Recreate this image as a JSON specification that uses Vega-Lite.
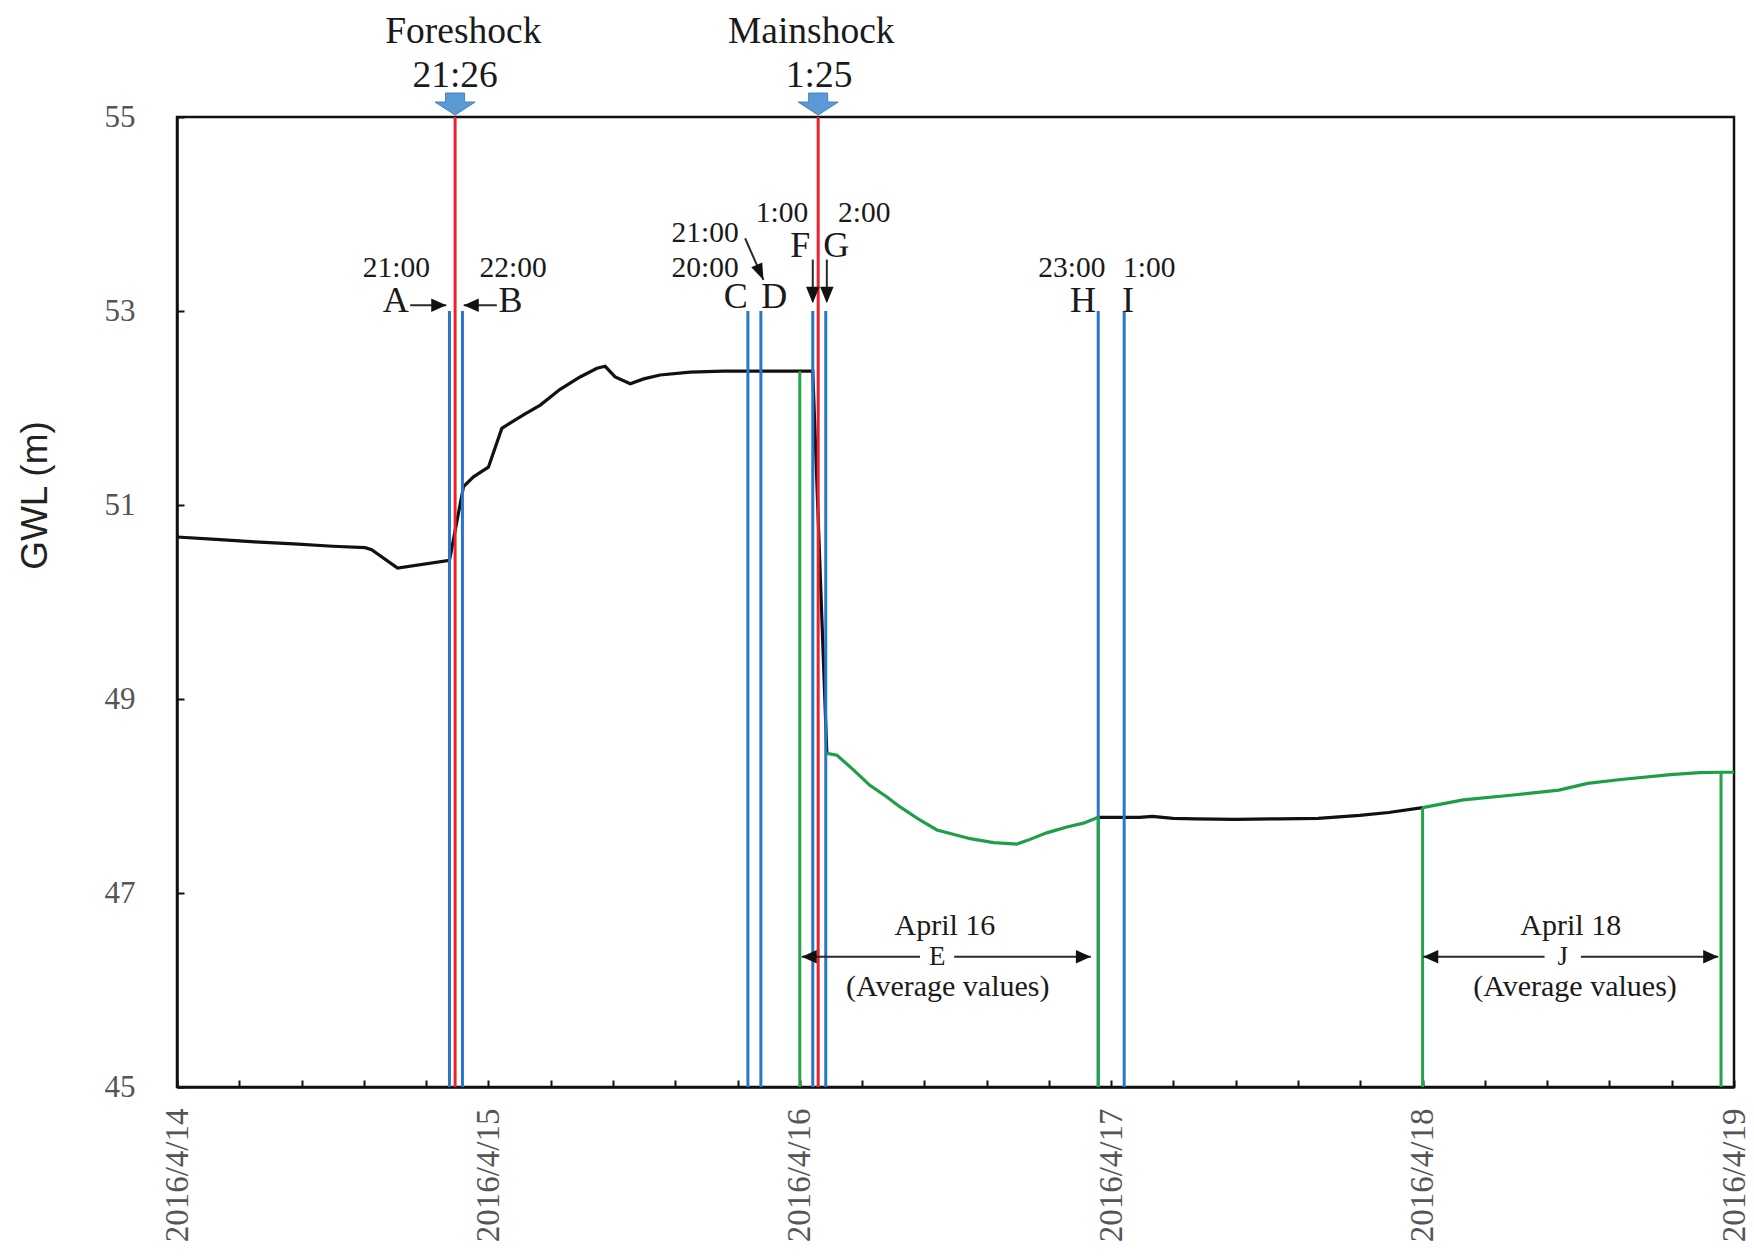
{
  "$schema": "https://vega.github.io/schema/vega-lite/v6.json",
  "width": 1557,
  "height": 970,
  "autosize": {"type": "none"},
  "padding": {"left": 177, "top": 117, "right": 20, "bottom": 172},
  "background": "white",
  "config": {"view": {"stroke": "#111", "strokeWidth": 2.5}},
  "resolve": {"scale": {"color": "independent"}},
  "datasets": {
    "curve": [
      {"t": "2016-04-14T00:00Z", "v": 50.67, "seg": "s1"},
      {"t": "2016-04-14T03:00Z", "v": 50.645, "seg": "s1"},
      {"t": "2016-04-14T06:00Z", "v": 50.62, "seg": "s1"},
      {"t": "2016-04-14T09:00Z", "v": 50.6, "seg": "s1"},
      {"t": "2016-04-14T12:00Z", "v": 50.575, "seg": "s1"},
      {"t": "2016-04-14T14:30Z", "v": 50.56, "seg": "s1"},
      {"t": "2016-04-14T15:00Z", "v": 50.54, "seg": "s1"},
      {"t": "2016-04-14T17:00Z", "v": 50.35, "seg": "s1"},
      {"t": "2016-04-14T21:00Z", "v": 50.43, "seg": "s1"},
      {"t": "2016-04-14T22:05Z", "v": 51.19, "seg": "s1"},
      {"t": "2016-04-14T22:51Z", "v": 51.29, "seg": "s1"},
      {"t": "2016-04-15T00:00Z", "v": 51.39, "seg": "s1"},
      {"t": "2016-04-15T01:02Z", "v": 51.79, "seg": "s1"},
      {"t": "2016-04-15T02:42Z", "v": 51.93, "seg": "s1"},
      {"t": "2016-04-15T04:00Z", "v": 52.03, "seg": "s1"},
      {"t": "2016-04-15T05:30Z", "v": 52.19, "seg": "s1"},
      {"t": "2016-04-15T07:04Z", "v": 52.32, "seg": "s1"},
      {"t": "2016-04-15T08:22Z", "v": 52.41, "seg": "s1"},
      {"t": "2016-04-15T09:00Z", "v": 52.43, "seg": "s1"},
      {"t": "2016-04-15T09:46Z", "v": 52.32, "seg": "s1"},
      {"t": "2016-04-15T10:56Z", "v": 52.25, "seg": "s1"},
      {"t": "2016-04-15T11:58Z", "v": 52.3, "seg": "s1"},
      {"t": "2016-04-15T13:14Z", "v": 52.34, "seg": "s1"},
      {"t": "2016-04-15T15:33Z", "v": 52.37, "seg": "s1"},
      {"t": "2016-04-15T18:06Z", "v": 52.38, "seg": "s1"},
      {"t": "2016-04-16T00:00Z", "v": 52.38, "seg": "s1"},
      {"t": "2016-04-16T01:00Z", "v": 52.38, "seg": "s1"},
      {"t": "2016-04-16T02:05Z", "v": 48.44, "seg": "s1"},
      {"t": "2016-04-16T02:05Z", "v": 48.44, "seg": "s2"},
      {"t": "2016-04-16T02:52Z", "v": 48.42, "seg": "s2"},
      {"t": "2016-04-16T04:08Z", "v": 48.27, "seg": "s2"},
      {"t": "2016-04-16T05:24Z", "v": 48.11, "seg": "s2"},
      {"t": "2016-04-16T06:43Z", "v": 47.99, "seg": "s2"},
      {"t": "2016-04-16T07:42Z", "v": 47.89, "seg": "s2"},
      {"t": "2016-04-16T09:17Z", "v": 47.75, "seg": "s2"},
      {"t": "2016-04-16T10:34Z", "v": 47.65, "seg": "s2"},
      {"t": "2016-04-16T13:08Z", "v": 47.56, "seg": "s2"},
      {"t": "2016-04-16T14:56Z", "v": 47.52, "seg": "s2"},
      {"t": "2016-04-16T16:44Z", "v": 47.505, "seg": "s2"},
      {"t": "2016-04-16T17:30Z", "v": 47.54, "seg": "s2"},
      {"t": "2016-04-16T19:02Z", "v": 47.62, "seg": "s2"},
      {"t": "2016-04-16T20:35Z", "v": 47.68, "seg": "s2"},
      {"t": "2016-04-16T21:52Z", "v": 47.72, "seg": "s2"},
      {"t": "2016-04-16T23:00Z", "v": 47.78, "seg": "s2"},
      {"t": "2016-04-16T23:00Z", "v": 47.78, "seg": "s3"},
      {"t": "2016-04-17T02:12Z", "v": 47.78, "seg": "s3"},
      {"t": "2016-04-17T03:10Z", "v": 47.79, "seg": "s3"},
      {"t": "2016-04-17T04:46Z", "v": 47.77, "seg": "s3"},
      {"t": "2016-04-17T06:30Z", "v": 47.765, "seg": "s3"},
      {"t": "2016-04-17T09:34Z", "v": 47.76, "seg": "s3"},
      {"t": "2016-04-17T13:00Z", "v": 47.765, "seg": "s3"},
      {"t": "2016-04-17T15:57Z", "v": 47.77, "seg": "s3"},
      {"t": "2016-04-17T19:09Z", "v": 47.8, "seg": "s3"},
      {"t": "2016-04-17T21:23Z", "v": 47.83, "seg": "s3"},
      {"t": "2016-04-18T00:00Z", "v": 47.88, "seg": "s3"},
      {"t": "2016-04-18T00:00Z", "v": 47.88, "seg": "s4"},
      {"t": "2016-04-18T03:08Z", "v": 47.96, "seg": "s4"},
      {"t": "2016-04-18T06:59Z", "v": 48.01, "seg": "s4"},
      {"t": "2016-04-18T10:30Z", "v": 48.06, "seg": "s4"},
      {"t": "2016-04-18T12:43Z", "v": 48.13, "seg": "s4"},
      {"t": "2016-04-18T15:17Z", "v": 48.17, "seg": "s4"},
      {"t": "2016-04-18T19:06Z", "v": 48.22, "seg": "s4"},
      {"t": "2016-04-18T21:21Z", "v": 48.24, "seg": "s4"},
      {"t": "2016-04-18T23:00Z", "v": 48.245, "seg": "s4"},
      {"t": "2016-04-19T00:00Z", "v": 48.245, "seg": "s4"}
    ],
    "vlines": [
      {"t": "2016-04-14T21:00Z", "v": 45, "v2": 53, "kind": "hour"},
      {"t": "2016-04-14T22:00Z", "v": 45, "v2": 53, "kind": "hour"},
      {"t": "2016-04-15T20:00Z", "v": 45, "v2": 53, "kind": "hour"},
      {"t": "2016-04-15T21:00Z", "v": 45, "v2": 53, "kind": "hour"},
      {"t": "2016-04-16T01:00Z", "v": 45, "v2": 53, "kind": "hour"},
      {"t": "2016-04-16T02:00Z", "v": 45, "v2": 53, "kind": "hour"},
      {"t": "2016-04-16T23:00Z", "v": 45, "v2": 53, "kind": "hour"},
      {"t": "2016-04-17T01:00Z", "v": 45, "v2": 53, "kind": "hour"},
      {"t": "2016-04-16T00:00Z", "v": 45, "v2": 52.38, "kind": "period"},
      {"t": "2016-04-16T23:00Z", "v": 45, "v2": 47.78, "kind": "period"},
      {"t": "2016-04-18T00:00Z", "v": 45, "v2": 47.88, "kind": "period"},
      {"t": "2016-04-18T23:00Z", "v": 45, "v2": 48.245, "kind": "period"},
      {"t": "2016-04-14T21:26Z", "v": 45, "v2": 55, "kind": "shock"},
      {"t": "2016-04-16T01:25Z", "v": 45, "v2": 55, "kind": "shock"}
    ],
    "arrows": [
      {"t": "2016-04-14T17:58Z", "v": 53.06, "t2": "2016-04-14T20:45Z", "v2": 53.06},
      {"t": "2016-04-14T22:06Z", "v": 53.06, "t2": "2016-04-15T00:39Z", "v2": 53.06},
      {"t": "2016-04-15T19:47Z", "v": 53.75, "t2": "2016-04-15T21:12Z", "v2": 53.32},
      {"t": "2016-04-16T01:00Z", "v": 53.53, "t2": "2016-04-16T01:00Z", "v2": 53.1},
      {"t": "2016-04-16T02:05Z", "v": 53.53, "t2": "2016-04-16T02:05Z", "v2": 53.1},
      {"t": "2016-04-16T00:09Z", "v": 46.343, "t2": "2016-04-16T09:16Z", "v2": 46.343},
      {"t": "2016-04-16T11:54Z", "v": 46.343, "t2": "2016-04-16T22:26Z", "v2": 46.343},
      {"t": "2016-04-18T00:03Z", "v": 46.343, "t2": "2016-04-18T09:24Z", "v2": 46.343},
      {"t": "2016-04-18T12:12Z", "v": 46.343, "t2": "2016-04-18T22:47Z", "v2": 46.343}
    ],
    "heads": [
      {"t": "2016-04-14T20:45Z", "v": 53.06, "dir": "right"},
      {"t": "2016-04-16T22:26Z", "v": 46.343, "dir": "right"},
      {"t": "2016-04-18T22:47Z", "v": 46.343, "dir": "right"},
      {"t": "2016-04-14T22:06Z", "v": 53.06, "dir": "left"},
      {"t": "2016-04-16T00:09Z", "v": 46.343, "dir": "left"},
      {"t": "2016-04-18T00:03Z", "v": 46.343, "dir": "left"},
      {"t": "2016-04-16T01:00Z", "v": 53.08, "dir": "down"},
      {"t": "2016-04-16T02:05Z", "v": 53.08, "dir": "down"},
      {"t": "2016-04-15T21:12Z", "v": 53.32, "dir": "slant"}
    ],
    "shocks": [
      {"t": "2016-04-14T21:26Z", "v": 55.02, "name": "Foreshock"},
      {"t": "2016-04-16T01:25Z", "v": 55.02, "name": "Mainshock"}
    ],
    "texts": [
      {"t": "2016-04-14T22:04Z", "v": 55.763, "label": "Foreshock", "role": "event"},
      {"t": "2016-04-14T21:26Z", "v": 55.309, "label": "21:26", "role": "event"},
      {"t": "2016-04-16T00:53Z", "v": 55.763, "label": "Mainshock", "role": "event"},
      {"t": "2016-04-16T01:29Z", "v": 55.309, "label": "1:25", "role": "event"},
      {"t": "2016-04-14T16:52Z", "v": 52.99, "label": "A", "role": "letter"},
      {"t": "2016-04-15T01:42Z", "v": 52.99, "label": "B", "role": "letter"},
      {"t": "2016-04-15T19:04Z", "v": 53.03, "label": "C", "role": "letter"},
      {"t": "2016-04-15T22:02Z", "v": 53.03, "label": "D", "role": "letter"},
      {"t": "2016-04-16T00:02Z", "v": 53.56, "label": "F", "role": "letter"},
      {"t": "2016-04-16T02:48Z", "v": 53.56, "label": "G", "role": "letter"},
      {"t": "2016-04-16T21:50Z", "v": 52.99, "label": "H", "role": "letter"},
      {"t": "2016-04-17T01:18Z", "v": 52.99, "label": "I", "role": "letter"},
      {"t": "2016-04-14T16:54Z", "v": 53.35, "label": "21:00", "role": "time"},
      {"t": "2016-04-15T01:54Z", "v": 53.35, "label": "22:00", "role": "time"},
      {"t": "2016-04-15T16:42Z", "v": 53.715, "label": "21:00", "role": "time"},
      {"t": "2016-04-15T16:42Z", "v": 53.35, "label": "20:00", "role": "time"},
      {"t": "2016-04-15T22:38Z", "v": 53.92, "label": "1:00", "role": "time"},
      {"t": "2016-04-16T04:58Z", "v": 53.92, "label": "2:00", "role": "time"},
      {"t": "2016-04-16T20:58Z", "v": 53.35, "label": "23:00", "role": "time"},
      {"t": "2016-04-17T02:56Z", "v": 53.35, "label": "1:00", "role": "time"},
      {"t": "2016-04-16T11:11Z", "v": 46.567, "label": "April 16", "role": "note"},
      {"t": "2016-04-16T11:24Z", "v": 45.935, "label": "(Average values)", "role": "note"},
      {"t": "2016-04-18T11:25Z", "v": 46.567, "label": "April 18", "role": "note"},
      {"t": "2016-04-18T11:45Z", "v": 45.935, "label": "(Average values)", "role": "note"},
      {"t": "2016-04-16T10:36Z", "v": 46.26, "label": "E", "role": "span"},
      {"t": "2016-04-18T10:48Z", "v": 46.26, "label": "J", "role": "span"}
    ]
  },
  "encoding": {
    "x": {
      "field": "t",
      "type": "temporal",
      "scale": {"type": "utc", "domain": [1460592000000, 1461024000000], "nice": false},
      "axis": {
        "values": [1460592000000, 1460609280000, 1460626560000, 1460643840000, 1460661120000, 1460678400000, 1460695680000, 1460712960000, 1460730240000, 1460747520000, 1460764800000, 1460782080000, 1460799360000, 1460816640000, 1460833920000, 1460851200000, 1460868480000, 1460885760000, 1460903040000, 1460920320000, 1460937600000, 1460954880000, 1460972160000, 1460989440000, 1461006720000, 1461024000000],
        "labelExpr": "utchours(datum.value) == 0 && utcminutes(datum.value) == 0 ? utcFormat(datum.value, '%Y/%-m/%-d') : ''",
        "labelAngle": 270,
        "labelAlign": "right",
        "labelBaseline": "middle",
        "labelFont": "Liberation Serif",
        "labelFontSize": 33,
        "labelColor": "#555",
        "labelPadding": 28,
        "labelOverlap": false,
        "labelFlush": false,
        "labelBound": false,
        "tickSize": -7,
        "tickColor": "#111",
        "tickWidth": 2,
        "domainColor": "#111",
        "domainWidth": 2.5,
        "grid": false,
        "title": null
      }
    },
    "y": {
      "field": "v",
      "type": "quantitative",
      "scale": {"domain": [45, 55], "nice": false, "zero": false},
      "axis": {
        "values": [45, 47, 49, 51, 53, 55],
        "tickSize": -7,
        "tickWidth": 2,
        "tickColor": "#111",
        "labelFont": "Liberation Serif",
        "labelFontSize": 31,
        "labelColor": "#555",
        "labelPadding": 49,
        "labelFlush": false,
        "labelOverlap": false,
        "domainColor": "#111",
        "domainWidth": 2.5,
        "grid": false,
        "title": "GWL (m)",
        "titleFont": "Liberation Sans",
        "titleFontSize": 37,
        "titleFontWeight": "normal",
        "titleColor": "#222",
        "titleAngle": 270,
        "titleX": -142,
        "titleY": 378,
        "titleAlign": "center",
        "titleBaseline": "middle"
      }
    }
  },
  "layer": [
    {
      "data": {"name": "curve"},
      "mark": {"type": "line", "strokeWidth": 3.2},
      "encoding": {
        "color": {"field": "seg", "type": "nominal", "scale": {"domain": ["s1", "s2", "s3", "s4"], "range": ["#111111", "#1f9e48", "#111111", "#1f9e48"]}, "legend": null}
      }
    },
    {
      "data": {"name": "vlines", "format": {"parse": {"t": "date"}}},
      "mark": {"type": "rule", "strokeWidth": 3},
      "encoding": {
        "y2": {"field": "v2"},
        "color": {"field": "kind", "type": "nominal", "scale": {"domain": ["hour", "period", "shock"], "range": ["#2677cc", "#22a548", "#e8232d"]}, "legend": null}
      }
    },
    {
      "data": {"name": "arrows", "format": {"parse": {"t": "date", "t2": "date"}}},
      "mark": {"type": "rule", "strokeWidth": 2, "color": "#2a2a2a"},
      "encoding": {
        "x2": {"field": "t2"},
        "y2": {"field": "v2"}
      }
    },
    {
      "data": {"name": "heads"},
      "transform": [{"filter": "datum.dir === 'right'"}],
      "mark": {"type": "point", "shape": "M0,0L-1,-0.45L-1,0.45Z", "filled": true, "size": 900, "color": "#111", "opacity": 1}
    },
    {
      "data": {"name": "heads"},
      "transform": [{"filter": "datum.dir === 'left'"}],
      "mark": {"type": "point", "shape": "M0,0L1,-0.45L1,0.45Z", "filled": true, "size": 900, "color": "#111", "opacity": 1}
    },
    {
      "data": {"name": "heads"},
      "transform": [{"filter": "datum.dir === 'down'"}],
      "mark": {"type": "point", "shape": "M0,0L-0.45,-1.1L0.45,-1.1Z", "filled": true, "size": 900, "color": "#111", "opacity": 1}
    },
    {
      "data": {"name": "heads"},
      "transform": [{"filter": "datum.dir === 'slant'"}],
      "mark": {"type": "point", "shape": "M0,0L-0.4,-1.1L0.4,-1.1Z", "filled": true, "size": 900, "color": "#111", "opacity": 1, "angle": 336}
    },
    {
      "data": {"name": "shocks"},
      "mark": {"type": "point", "shape": "M0,0L-1,-0.65L-0.475,-0.65L-0.475,-1.1L0.475,-1.1L0.475,-0.65L1,-0.65Z", "filled": true, "size": 1600, "color": "#5b9bd5", "stroke": "#3f7fc0", "strokeWidth": 1, "opacity": 1}
    },
    {
      "data": {"name": "texts"},
      "transform": [{"filter": "datum.role === 'event'"}],
      "mark": {"type": "text", "font": "Liberation Serif", "fontSize": 37.5, "align": "center", "baseline": "alphabetic", "color": "#1a1a1a"},
      "encoding": {"text": {"field": "label"}}
    },
    {
      "data": {"name": "texts"},
      "transform": [{"filter": "datum.role === 'letter'"}],
      "mark": {"type": "text", "font": "Liberation Serif", "fontSize": 36, "align": "center", "baseline": "alphabetic", "color": "#1a1a1a"},
      "encoding": {"text": {"field": "label"}}
    },
    {
      "data": {"name": "texts"},
      "transform": [{"filter": "datum.role === 'time'"}],
      "mark": {"type": "text", "font": "Liberation Serif", "fontSize": 29.5, "align": "center", "baseline": "alphabetic", "color": "#1a1a1a"},
      "encoding": {"text": {"field": "label"}}
    },
    {
      "data": {"name": "texts"},
      "transform": [{"filter": "datum.role === 'note'"}],
      "mark": {"type": "text", "font": "Liberation Serif", "fontSize": 30, "align": "center", "baseline": "alphabetic", "color": "#1a1a1a"},
      "encoding": {"text": {"field": "label"}}
    },
    {
      "data": {"name": "texts"},
      "transform": [{"filter": "datum.role === 'span'"}],
      "mark": {"type": "text", "font": "Liberation Serif", "fontSize": 27, "align": "center", "baseline": "alphabetic", "color": "#1a1a1a"},
      "encoding": {"text": {"field": "label"}}
    }
  ]
}
